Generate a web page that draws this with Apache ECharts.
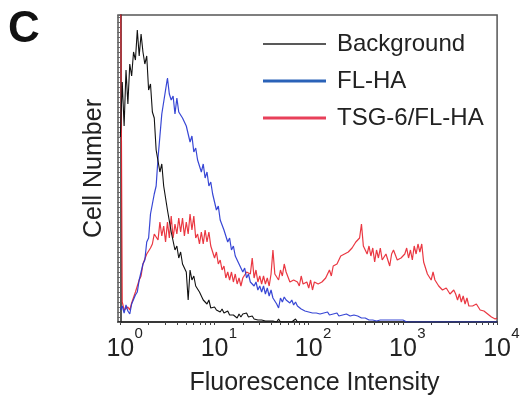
<!DOCTYPE html>
<html><head><meta charset="utf-8">
<script src="https://cdn.jsdelivr.net/npm/echarts@6/dist/echarts.min.js"></script>
<style>html,body{margin:0;padding:0;background:#fff}#c{width:523px;height:404px}</style>
</head><body><div id="c"></div>
<script>
// x = log10(fluorescence intensity), histogram bins of 0.02 decade starting at 10^0
const binWidth = 0.02;
const seriesNames = ['Background', 'FL-HA', 'TSG-6/FL-HA'];
const decadeTicks = [0, 1, 2, 3, 4];

const background = [
  185,240,196,252,218,258,246,270,262,292,
  266,288,270,258,266,232,238,210,204,172,
  170,150,158,136,136,112,110,90,88,72,
  76,64,70,58,60,50,22,52,42,46,
  36,38,30,32,22,24,18,22,14,16,
  15,12,13,10,13,9,10,11,7,9,
  7,6,4,8,5,8,6,9,5,7,
  6,3,5,2,4,2,3,1,2,1,
  0,1,0,0,3,0,0,0,0,0,
  0,0,0,3,0,0,0,0,0,0,0
];

const flHA = [
  12,16,9,17,11,8,18,19,27,30,
  42,40,58,62,80,84,108,118,128,136,
  164,186,208,210,232,244,228,222,226,208,
  224,210,210,204,204,196,194,180,186,170,
  174,162,164,150,158,144,150,136,140,128,
  128,112,116,102,104,92,92,80,84,72,
  76,66,68,58,60,50,54,44,48,40,
  42,36,40,32,36,30,36,28,34,26,
  32,24,26,18,14,24,20,25,22,24,
  19,22,17,20,16,18,13,15,11,12,
  10,11,9,10,9,10,8,10,9,8,
  10,7,9,8,7,9,6,8,7,6,
  8,7,6,8,7,9,6,5,4,3,
  4,3,2,3,2,2,1,3,2,1,
  2,1,2,1,2,1,2,1,2,1,
  2,1,0,1,0,0,0,0,0,0,
  0,0,0,0,0,0,0,0,0,0,
  0,0,0,0,0,0,0,0,0,0,
  0,0,0,0,0,0,0,0,0,0,
  0,0,0,0,0,0,0,0,0,0,
  0
];

const tsg6FlHA = [
  400,20,12,14,15,12,19,21,30,32,
  42,46,58,60,68,70,74,78,88,90,
  82,100,86,96,80,100,84,106,84,98,
  88,104,90,104,86,100,88,108,92,106,
  84,88,78,90,78,92,80,90,76,76,
  64,70,58,62,52,56,44,50,42,50,
  40,48,38,44,36,44,42,50,50,48,
  64,44,52,40,46,38,46,38,44,36,
  48,72,48,48,42,52,46,58,50,48,
  40,42,42,40,40,36,46,38,40,40,
  34,42,32,40,40,38,38,40,42,44,
  44,52,46,56,56,58,60,66,66,68,
  70,70,72,74,76,80,80,84,98,76,
  76,68,76,66,74,60,72,64,74,62,
  62,68,66,56,68,72,70,62,62,64,
  64,68,74,64,72,62,76,68,78,70,
  78,60,58,48,50,42,50,42,42,36,
  38,32,34,34,36,28,30,32,28,22,
  28,20,26,18,24,16,18,16,16,18,
  17,12,14,11,12,8,9,5,6,3,
  4
];

const toPoints = arr => arr.map((v, i) => [Math.round(i * binWidth * 100) / 100, v]);

const minorTicks = [];
for (let k = 0; k < 4; k++) for (let m = 1; m <= 9; m++) minorTicks.push(Math.log10(m * Math.pow(10, k)));
minorTicks.push(4);

const chart = echarts.init(document.getElementById('c'), null, {renderer: 'canvas'});
const FONT = '"Liberation Sans", Arial, Helvetica, sans-serif';
chart.setOption({
  animation: false,
  backgroundColor: '#fff',
  grid: {left: 118, right: 23, top: 15, bottom: 82, show: true, borderColor: '#555', borderWidth: 1.5},
  legend: {
    orient: 'vertical', left: 258, top: 27, itemWidth: 63, itemHeight: 16, itemGap: 13,
    textStyle: {fontFamily: FONT, fontSize: 24, color: '#222', lineHeight: 24, padding: [0, 0, 0, 6]},
    data: [
      {name: seriesNames[0], icon: 'path://M0,0L63,0L63,1.6L0,1.6Z', itemStyle: {color: '#222'}},
      {name: seriesNames[1], icon: 'path://M0,0L63,0L63,3L0,3Z', itemStyle: {color: '#2a62b8'}},
      {name: seriesNames[2], icon: 'path://M0,0L63,0L63,3L0,3Z', itemStyle: {color: '#e8405a'}}
    ]
  },
  xAxis: {
    type: 'value', min: -0.025, max: 4,
    name: 'Fluorescence Intensity', nameLocation: 'middle', nameGap: 49,
    nameTextStyle: {fontFamily: FONT, fontSize: 25, color: '#222', padding: [0, 0, 0, 14]},
    axisLine: {show: true, lineStyle: {color: '#222', width: 1.5}},
    axisTick: {show: true, customValues: minorTicks, length: 3, lineStyle: {color: '#444', width: 1}},
    splitLine: {show: false},
    axisLabel: {
      customValues: decadeTicks, margin: 4,
      formatter: v => '{p| }{b|10}{s|' + v + '}',
      rich: {
        p: {width: 9, fontSize: 10, lineHeight: 36},
        b: {fontFamily: FONT, fontSize: 25, lineHeight: 25, color: '#222', verticalAlign: 'bottom'},
        s: {fontFamily: FONT, fontSize: 15, lineHeight: 15, color: '#222', verticalAlign: 'top', width: 9}
      }
    }
  },
  yAxis: {
    type: 'value', min: 0, max: 307, interval: 5,
    name: 'Cell Number', nameLocation: 'middle', nameGap: 11, nameRotate: 90,
    nameTextStyle: {fontFamily: FONT, fontSize: 25, color: '#222'},
    axisLine: {show: true, lineStyle: {color: '#222', width: 1.5}},
    axisTick: {show: true, length: 3, lineStyle: {color: '#666', width: 1}},
    axisLabel: {show: false},
    splitLine: {show: false}
  },
  graphic: [{type: 'text', left: 8, top: 8, style: {text: 'C', font: 'bold 44px ' + FONT, fill: '#111'}}],
  series: [
    {name: seriesNames[2], type: 'line', data: toPoints(tsg6FlHA), symbol: 'none', clip: true,
     lineStyle: {color: '#e8222e', width: 1.2, opacity: 0.9}, itemStyle: {color: '#e8405a'}, z: 2},
    {name: seriesNames[1], type: 'line', data: toPoints(flHA), symbol: 'none', clip: true,
     lineStyle: {color: '#2233d0', width: 1.2, opacity: 0.9}, itemStyle: {color: '#2a62b8'}, z: 3},
    {name: seriesNames[0], type: 'line', data: toPoints(background), symbol: 'none', clip: true,
     lineStyle: {color: '#111', width: 1.1}, itemStyle: {color: '#222'}, z: 4}
  ]
});
</script></body></html>
